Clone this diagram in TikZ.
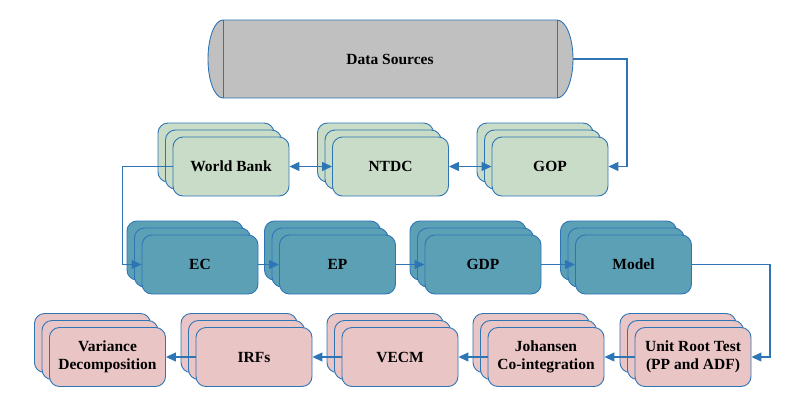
\documentclass[tikz,border=0pt]{standalone}
\usepackage{fontspec}
\setmainfont{Liberation Serif}
\usetikzlibrary{arrows.meta}
\definecolor{bordc}{RGB}{46,117,182}
\definecolor{greenf}{RGB}{200,220,200}
\definecolor{bluef}{RGB}{92,160,182}
\definecolor{pinkf}{RGB}{234,197,198}
\definecolor{grayf}{RGB}{192,192,192}
\tikzset{
  box/.style={draw=bordc, line width=0.9pt, rounded corners=10pt, minimum width=116pt, minimum height=59pt, inner sep=0pt, align=center, font=\fontsize{15.5}{18}\selectfont\bfseries},
  conn/.style={draw=bordc, line width=1.1pt},
  tip/.style={-{Triangle[length=10pt,width=9pt]}},
  dtip/.style={{Triangle[length=10pt,width=9pt]}-{Triangle[length=10pt,width=9pt]}}
}
\newcommand\stk[5]{%
  \node[box,fill=#4] (#1-3) at (#2-15,#3-14) {};
  \node[box,fill=#4] (#1-2) at (#2-7.5,#3-7) {};
  \node[box,fill=#4] (#1) at (#2,#3) {#5};
}
\begin{document}
\begin{tikzpicture}[x=1pt,y=-1pt]
\useasboundingbox (0,0) rectangle (807,405);
% Data Sources cylinder
\filldraw[fill=grayf, draw=bordc, line width=0.9pt]
  (223,20) -- (557,20) arc[start angle=90, end angle=-90, x radius=16pt, y radius=39pt]
  -- (223,98) arc[start angle=270, end angle=90, x radius=15pt, y radius=39pt] -- cycle;
\draw[draw=bordc, line width=0.9pt] (223,20) -- (223,98) (557,20) -- (557,98);
\node[font=\fontsize{15.5}{18}\selectfont\bfseries] (ds) at (390,59) {Data Sources};
\coordinate (dse) at (573,59);
% green row
\stk{wb}{231}{166.5}{greenf}{World Bank}
\stk{ntdc}{390.5}{166.5}{greenf}{NTDC}
\stk{gop}{550}{166.5}{greenf}{GOP}
% blue row
\stk{ec}{200}{264.5}{bluef}{EC}
\stk{ep}{337.5}{264.5}{bluef}{EP}
\stk{gdp}{483}{264.5}{bluef}{GDP}
\stk{model}{633.5}{264.5}{bluef}{Model}
% pink row
\stk{ur}{693}{357}{pinkf}{Unit Root Test\\(PP and ADF)}
\stk{joh}{546}{357}{pinkf}{Johansen\\Co-integration}
\stk{vecm}{400}{357}{pinkf}{VECM}
\stk{irf}{254}{357}{pinkf}{IRFs}
\stk{var}{107.5}{357}{pinkf}{Variance\\Decomposition}
% connectors
\draw[conn,tip] (dse) -- ++(54,0) |- (gop.east);
\draw[conn,dtip] (gop.west) -- (ntdc.east);
\draw[conn,dtip] (ntdc.west) -- (wb.east);
\draw[conn,tip] (wb.west) -- ++(-50,0) |- (ec.west);
\draw[conn,tip] (ec.east) -- (ep.west);
\draw[conn,tip] (ep.east) -- (gdp.west);
\draw[conn,tip] (gdp.east) -- (model.west);
\draw[conn,tip] (model.east) -- ++(78,0) |- (ur.east);
\draw[conn,tip] (ur.west) -- (joh.east);
\draw[conn,tip] (joh.west) -- (vecm.east);
\draw[conn,tip] (vecm.west) -- (irf.east);
\draw[conn,tip] (irf.west) -- (var.east);
\end{tikzpicture}
\end{document}
